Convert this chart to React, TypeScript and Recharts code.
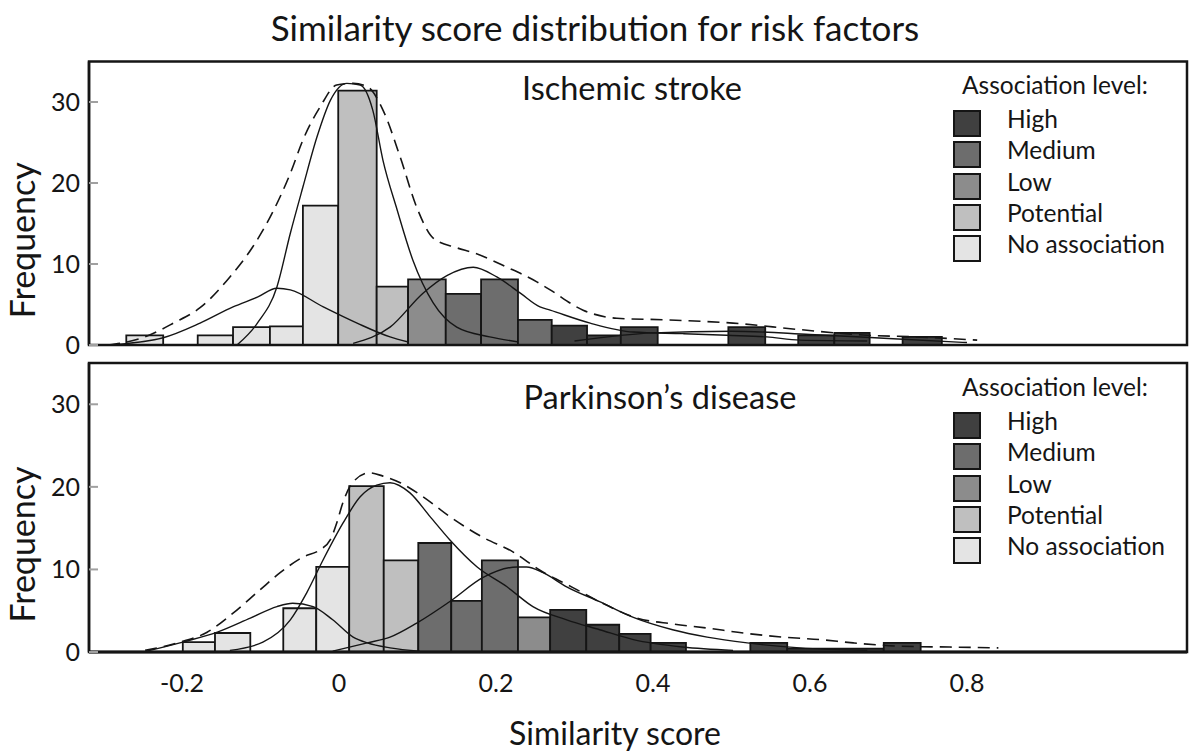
import React from "react";
import { ComposedChart, XAxis, YAxis, Line, ReferenceArea, Legend } from "recharts";

// shared axes
const X_DOMAIN: [number, number] = [-0.3185, 1.0803];
const Y_DOMAIN: [number, number] = [0, 35];
const X_TICKS = [-0.2, 0, 0.2, 0.4, 0.6, 0.8];
const Y_TICKS = [0, 10, 20, 30];

const LEVELS = ["High", "Medium", "Low", "Potential", "No association"];
const LEVEL_FILL: Record<string, string> = {
  High: "#404040",
  Medium: "#6d6d6d",
  Low: "#8c8c8c",
  Potential: "#bfbfbf",
  "No association": "#e4e4e4",
};

// Ischemic stroke histogram
const strokeBins: [number, number][] = [
  [-0.271, -0.224], [-0.18, -0.135], [-0.135, -0.088], [-0.088, -0.046], [-0.046, -0.001],
  [-0.001, 0.048], [0.048, 0.088], [0.088, 0.136], [0.136, 0.181], [0.181, 0.228],
  [0.228, 0.271], [0.271, 0.316], [0.316, 0.359], [0.359, 0.406], [0.496, 0.543],
  [0.585, 0.631], [0.631, 0.676], [0.718, 0.768],
];
const strokeCounts = [1.2, 1.2, 2.2, 2.3, 17.2, 31.4, 7.2, 8.1, 6.3, 8.1, 3.1, 2.4, 1.2, 2.2, 2.2, 1.2, 1.5, 1.0];
const strokeLevels = [
  "No association", "No association", "No association", "No association", "No association",
  "Potential", "Potential", "Low", "Medium", "Medium", "Medium",
  "High", "High", "High", "High", "High", "High", "High",
];

// Ischemic stroke density curves
const strokeTotal: [number, number][] = [
  [-0.294, 0], [-0.247, 1.0], [-0.211, 2.7], [-0.177, 4.6], [-0.139, 8.4], [-0.11, 12.1],
  [-0.085, 16.3], [-0.062, 21.2], [-0.046, 25.3], [-0.024, 29.4], [-0.003, 32.1], [0.018, 32.3],
  [0.036, 31.9], [0.056, 29.0], [0.078, 23.2], [0.099, 17.0], [0.12, 13.2], [0.15, 12.0],
  [0.171, 11.4], [0.214, 9.6], [0.252, 7.8], [0.269, 6.8], [0.311, 4.3], [0.354, 3.3],
  [0.418, 3.1], [0.502, 2.7], [0.587, 1.9], [0.673, 1.2], [0.736, 1.0], [0.813, 0.6],
];
const strokeNone: [number, number][] = [
  [-0.294, 0], [-0.224, 0.9], [-0.177, 2.7], [-0.135, 4.7], [-0.104, 5.9], [-0.079, 7.0],
  [-0.062, 6.8], [-0.02, 4.7], [0.023, 2.7], [0.065, 1.0], [0.087, 0.4],
];
const strokePotential: [number, number][] = [
  [-0.13, 0], [-0.104, 2.7], [-0.079, 7.2], [-0.062, 13.8], [-0.046, 19.5], [-0.028, 25.7],
  [-0.011, 30.2], [0.01, 32.3], [0.027, 32.1], [0.043, 29.0], [0.056, 22.8], [0.074, 16.7],
  [0.094, 10.5], [0.12, 5.2], [0.15, 2.2], [0.192, 1.0], [0.227, 0.4],
];
const strokeMedium: [number, number][] = [
  [0.018, 0.2], [0.065, 2.2], [0.107, 6.4], [0.138, 8.6], [0.171, 9.6], [0.201, 8.4],
  [0.231, 6.4], [0.256, 4.7], [0.269, 4.3], [0.32, 2.7], [0.375, 1.6], [0.438, 1.4],
  [0.494, 1.2], [0.545, 1.0], [0.587, 0.6], [0.673, 0.5],
];
const strokeHigh: [number, number][] = [
  [0.3, 0.5], [0.4, 1.5], [0.5, 1.7], [0.6, 1.3], [0.7, 0.8], [0.8, 0.3],
];

// Parkinson's disease histogram
const pdBins: [number, number][] = [
  [-0.199, -0.158], [-0.158, -0.113], [-0.071, -0.029], [-0.029, 0.013], [0.013, 0.057],
  [0.057, 0.101], [0.101, 0.143], [0.143, 0.182], [0.182, 0.228], [0.228, 0.269],
  [0.269, 0.315], [0.315, 0.357], [0.357, 0.397], [0.397, 0.442], [0.524, 0.571],
  [0.571, 0.694], [0.694, 0.741],
];
const pdCounts = [1.2, 2.3, 5.3, 10.3, 20.1, 11.1, 13.2, 6.2, 11.1, 4.2, 5.1, 3.3, 2.2, 1.1, 1.1, 0.4, 1.1];
const pdLevels = [
  "No association", "No association", "No association", "No association",
  "Potential", "Potential", "Medium", "Medium", "Medium", "Low",
  "High", "High", "High", "High", "High", "High", "High",
];

// Parkinson's disease density curves
const pdTotal: [number, number][] = [
  [-0.247, 0.2], [-0.206, 1.1], [-0.168, 2.4], [-0.135, 4.7], [-0.101, 7.5], [-0.075, 9.6],
  [-0.046, 11.5], [-0.024, 12.4], [-0.011, 13.6], [-0.003, 15.6], [0.005, 18.1], [0.018, 20.6],
  [0.039, 21.7], [0.056, 21.3], [0.078, 20.5], [0.107, 18.8], [0.141, 16.4], [0.183, 13.9],
  [0.222, 12.1], [0.256, 9.9], [0.298, 7.8], [0.336, 5.9], [0.38, 4.1], [0.425, 3.4],
  [0.469, 2.9], [0.515, 2.3], [0.566, 1.8], [0.613, 1.5], [0.655, 1.1], [0.715, 0.7],
  [0.778, 0.6], [0.84, 0.5],
];
const pdNone: [number, number][] = [
  [-0.245, 0.1], [-0.199, 1.2], [-0.155, 2.4], [-0.113, 4.1], [-0.079, 5.5], [-0.059, 5.9],
  [-0.033, 5.5], [-0.008, 3.9], [0.018, 1.8], [0.036, 1.1], [0.065, 0.5], [0.103, 0.1],
];
const pdPotential: [number, number][] = [
  [-0.139, 0.2], [-0.097, 1.2], [-0.062, 3.9], [-0.041, 7.2], [-0.02, 11.2], [0.005, 15.6],
  [0.027, 18.8], [0.048, 20.2], [0.065, 20.5], [0.09, 19.3], [0.116, 16.4], [0.141, 13.6],
  [0.176, 10.3], [0.214, 7.9], [0.247, 5.5], [0.29, 3.9], [0.332, 2.7], [0.375, 1.5],
  [0.438, 0.6], [0.502, 0.2],
];
const pdMedium: [number, number][] = [
  [-0.008, 0.1], [0.036, 1.1], [0.065, 1.8], [0.099, 3.5], [0.144, 6.3], [0.183, 9.0],
  [0.227, 10.3], [0.239, 10.3], [0.26, 9.6], [0.29, 7.9], [0.332, 6.1], [0.375, 4.2],
  [0.425, 2.7], [0.469, 1.8], [0.52, 1.1], [0.587, 0.5], [0.673, 0.2],
];

const INK = "#151515";
const toPts = (arr: [number, number][]) => arr.map(([x, y]) => ({ x, y }));

function LevelLegend() {
  return (
    <div style={{ width: 240, color: INK, fontSize: 24.5 }}>
      <div style={{ height: 36, lineHeight: "26px", paddingLeft: 10 }}>Association level:</div>
      {LEVELS.map((lv) => (
        <div key={lv} style={{ position: "relative", height: 31.3 }}>
          <div
            style={{
              position: "absolute",
              left: 1,
              top: 2,
              width: 28,
              height: 27,
              boxSizing: "border-box",
              border: `2px solid ${INK}`,
              background: LEVEL_FILL[lv],
            }}
          />
          <div style={{ position: "absolute", left: 55, top: -2, lineHeight: "26px" }}>{lv}</div>
        </div>
      ))}
    </div>
  );
}

interface PanelProps {
  title: string;
  titleX: number;
  titleY: number;
  bins: [number, number][];
  counts: number[];
  levels: string[];
  total: [number, number][];
  curves: [number, number][][];
  top: number;
  height: number;
  marginTop: number;
  legendTop: number;
  showX: boolean;
}

function Panel(p: PanelProps) {
  const xAxisHeight = p.showX ? 95 : 0;
  const marginBottom = p.height - p.marginTop - 283.5 - xAxisHeight - (p.showX ? 5.5 : 0);
  return (
    <div style={{ position: "absolute", left: 0, top: p.top, width: 1200, height: p.height }}>
      <ComposedChart
        width={1200}
        height={p.height}
        margin={{ top: p.marginTop, right: 13, bottom: marginBottom, left: 29 }}
      >
        <XAxis
          dataKey="x"
          type="number"
          domain={X_DOMAIN}
          allowDataOverflow
          ticks={X_TICKS}
          height={xAxisHeight}
          tick={p.showX ? { fontSize: 25, fill: INK } : false}
          tickLine={false}
          tickSize={0}
          tickMargin={22}
          axisLine={{ stroke: INK, strokeWidth: 3 }}
          label={
            p.showX
              ? {
                  content: ({ viewBox }: any) => (
                    <text
                      x={viewBox.x + viewBox.width / 2 - 23}
                      y={viewBox.y + 80}
                      textAnchor="middle"
                      dominantBaseline="central"
                      fontSize={32}
                      fill={INK}
                    >
                      Similarity score
                    </text>
                  ),
                }
              : undefined
          }
        />
        <YAxis
          type="number"
          domain={Y_DOMAIN}
          allowDataOverflow
          ticks={Y_TICKS}
          width={60}
          tickSize={-9}
          tickMargin={18}
          tickLine={{ stroke: "#a0a0a0", strokeWidth: 2 }}
          tick={{ fontSize: 25, fill: INK }}
          axisLine={{ stroke: INK, strokeWidth: 2.5 }}
          label={{
            content: ({ viewBox }: any) => {
              const cx = viewBox.x - 8;
              const cy = viewBox.y + viewBox.height / 2 + 37;
              return (
                <text
                  x={cx}
                  y={cy}
                  transform={`rotate(-90, ${cx}, ${cy})`}
                  textAnchor="middle"
                  dominantBaseline="central"
                  fontSize={34}
                  fill={INK}
                >
                  Frequency
                </text>
              );
            },
          }}
        />
        {p.bins.map(([x0, x1], i) => (
          <ReferenceArea
            key={`bin-${i}`}
            x1={x0}
            x2={x1}
            y1={0}
            y2={p.counts[i]}
            fill={LEVEL_FILL[p.levels[i]]}
            fillOpacity={1}
            stroke={INK}
            strokeWidth={1.8}
          />
        ))}
        {/* panel frame */}
        <ReferenceArea
          x1={X_DOMAIN[0]}
          x2={X_DOMAIN[1]}
          y1={Y_DOMAIN[0]}
          y2={Y_DOMAIN[1]}
          fill="none"
          stroke={INK}
          strokeWidth={2.5}
        />
        {p.curves.map((c, i) => (
          <Line
            key={`curve-${i}`}
            data={toPts(c)}
            dataKey="y"
            type="monotone"
            stroke={INK}
            strokeWidth={1.4}
            dot={false}
            legendType="none"
            isAnimationActive={false}
          />
        ))}
        <Line
          data={toPts(p.total)}
          dataKey="y"
          type="monotone"
          stroke={INK}
          strokeWidth={1.6}
          strokeDasharray="12 7"
          dot={false}
          legendType="none"
          isAnimationActive={false}
        />
        <Legend
          layout="vertical"
          align="center"
          verticalAlign="middle"
          content={<LevelLegend />}
          wrapperStyle={{ left: 952, top: p.legendTop, width: 240 }}
        />
      </ComposedChart>
      <div
        style={{
          position: "absolute",
          left: p.titleX - 250,
          width: 500,
          top: p.titleY - 20,
          lineHeight: "40px",
          textAlign: "center",
          fontSize: 32.5,
          color: INK,
        }}
      >
        {p.title}
      </div>
    </div>
  );
}

export default function App() {
  return (
    <div
      style={{
        position: "absolute",
        left: 0,
        top: 0,
        width: 1200,
        height: 755,
        background: "#fff",
        fontFamily: "Lato, 'Open Sans', sans-serif",
        overflow: "hidden",
      }}
    >
      <div
        style={{
          position: "absolute",
          left: 0,
          width: 1190,
          top: 6,
          lineHeight: "42px",
          textAlign: "center",
          fontSize: 35,
          color: INK,
        }}
      >
        Similarity score distribution for risk factors
      </div>
      <Panel
        title="Ischemic stroke"
        titleX={632}
        titleY={88}
        bins={strokeBins}
        counts={strokeCounts}
        levels={strokeLevels}
        total={strokeTotal}
        curves={[strokeNone, strokePotential, strokeMedium, strokeHigh]}
        top={0}
        height={365}
        marginTop={61.5}
        legendTop={72}
        showX={false}
      />
      <Panel
        title="Parkinson’s disease"
        titleX={660}
        titleY={97}
        bins={pdBins}
        counts={pdCounts}
        levels={pdLevels}
        total={pdTotal}
        curves={[pdNone, pdPotential, pdMedium]}
        top={300}
        height={455}
        marginTop={63}
        legendTop={74}
        showX
      />
    </div>
  );
}
